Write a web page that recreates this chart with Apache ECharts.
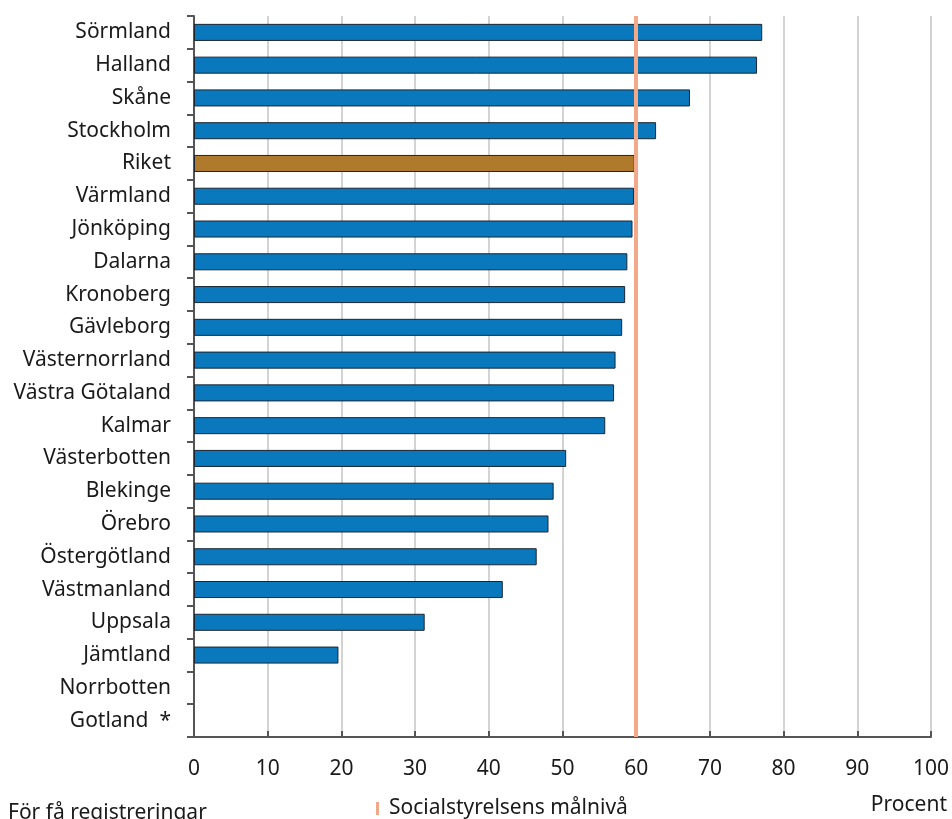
<!DOCTYPE html>
<html><head><meta charset="utf-8">
<script src="https://cdn.jsdelivr.net/npm/echarts@6/dist/echarts.min.js"></script>
<style>html,body{margin:0;padding:0;background:#fff}#c{width:952px;height:819px}</style>
</head><body><div id="c"></div>
<script>
const categories = ["Sörmland","Halland","Skåne","Stockholm","Riket","Värmland","Jönköping","Dalarna","Kronoberg","Gävleborg","Västernorrland","Västra Götaland","Kalmar","Västerbotten","Blekinge","Örebro","Östergötland","Västmanland","Uppsala","Jämtland","Norrbotten","Gotland  *"];
const values = [77.1,76.4,67.3,62.7,59.8,59.7,59.5,58.8,58.5,58.1,57.2,57.0,55.8,50.5,48.8,48.1,46.5,41.9,31.3,19.6,null,null];
const highlight = "Riket";
const targetValue = 60;
const xTicks = [0,10,20,30,40,50,60,70,80,90,100];
const legendName = "Socialstyrelsens målnivå";
const unitLabel = "Procent";
const footnote = "För få registreringar";

const blue = "#0a78bd", brown = "#b07a2c", target = "#f2a98a";
const font = "'Noto Sans', 'Open Sans', sans-serif";
const fs = 21;
const chart = echarts.init(document.getElementById('c'));
chart.setOption({
  animation:false,
  textStyle:{fontFamily:font},
  grid:{left:194,right:20,top:16,bottom:82,containLabel:false},
  legend:{
    data:[{name:legendName,icon:'rect'}],
    left:371,top:793,itemWidth:3,itemHeight:13,itemGap:12,
    textStyle:{fontSize:fs,color:'#1a1a1a',fontFamily:font,padding:[0,0,0,5]}
  },
  xAxis:{
    type:'value',min:xTicks[0],max:xTicks[xTicks.length-1],interval:10,
    axisLine:{show:true,lineStyle:{color:'#555',width:2}},
    axisTick:{show:true,inside:true,length:6,lineStyle:{color:'#555',width:2}},
    axisLabel:{fontSize:fs,color:'#1a1a1a',margin:22,fontFamily:font},
    splitLine:{show:true,lineStyle:{color:'#c4c4c4',width:1.5}}
  },
  yAxis:{
    type:'category',data:categories,inverse:true,
    axisLine:{show:true,lineStyle:{color:'#555',width:2}},
    axisTick:{show:true,length:7,lineStyle:{color:'#555',width:2}},
    axisLabel:{fontSize:fs,color:'#1a1a1a',margin:23,fontFamily:font}
  },
  series:[{
    type:'bar',name:'värden',barWidth:'52%',
    data:values.map((v,i)=>categories[i]===highlight?{value:v,itemStyle:{color:brown}}:v),
    itemStyle:{color:blue,borderColor:'#1b2633',borderWidth:1},
    markLine:{symbol:'none',silent:true,label:{show:false},
      lineStyle:{color:target,width:4,type:'solid'},
      data:[{xAxis:targetValue}]},
    z:2
  },{
    type:'line',name:legendName,data:[],itemStyle:{color:target},lineStyle:{color:target}
  }],
  graphic:[
    {type:'text',left:8,top:803,style:{text:footnote,fontSize:fs,fill:'#1a1a1a',fontFamily:font}},
    {type:'text',right:5,top:795,style:{text:unitLabel,fontSize:fs,fill:'#1a1a1a',fontFamily:font}}
  ]
});
</script></body></html>
